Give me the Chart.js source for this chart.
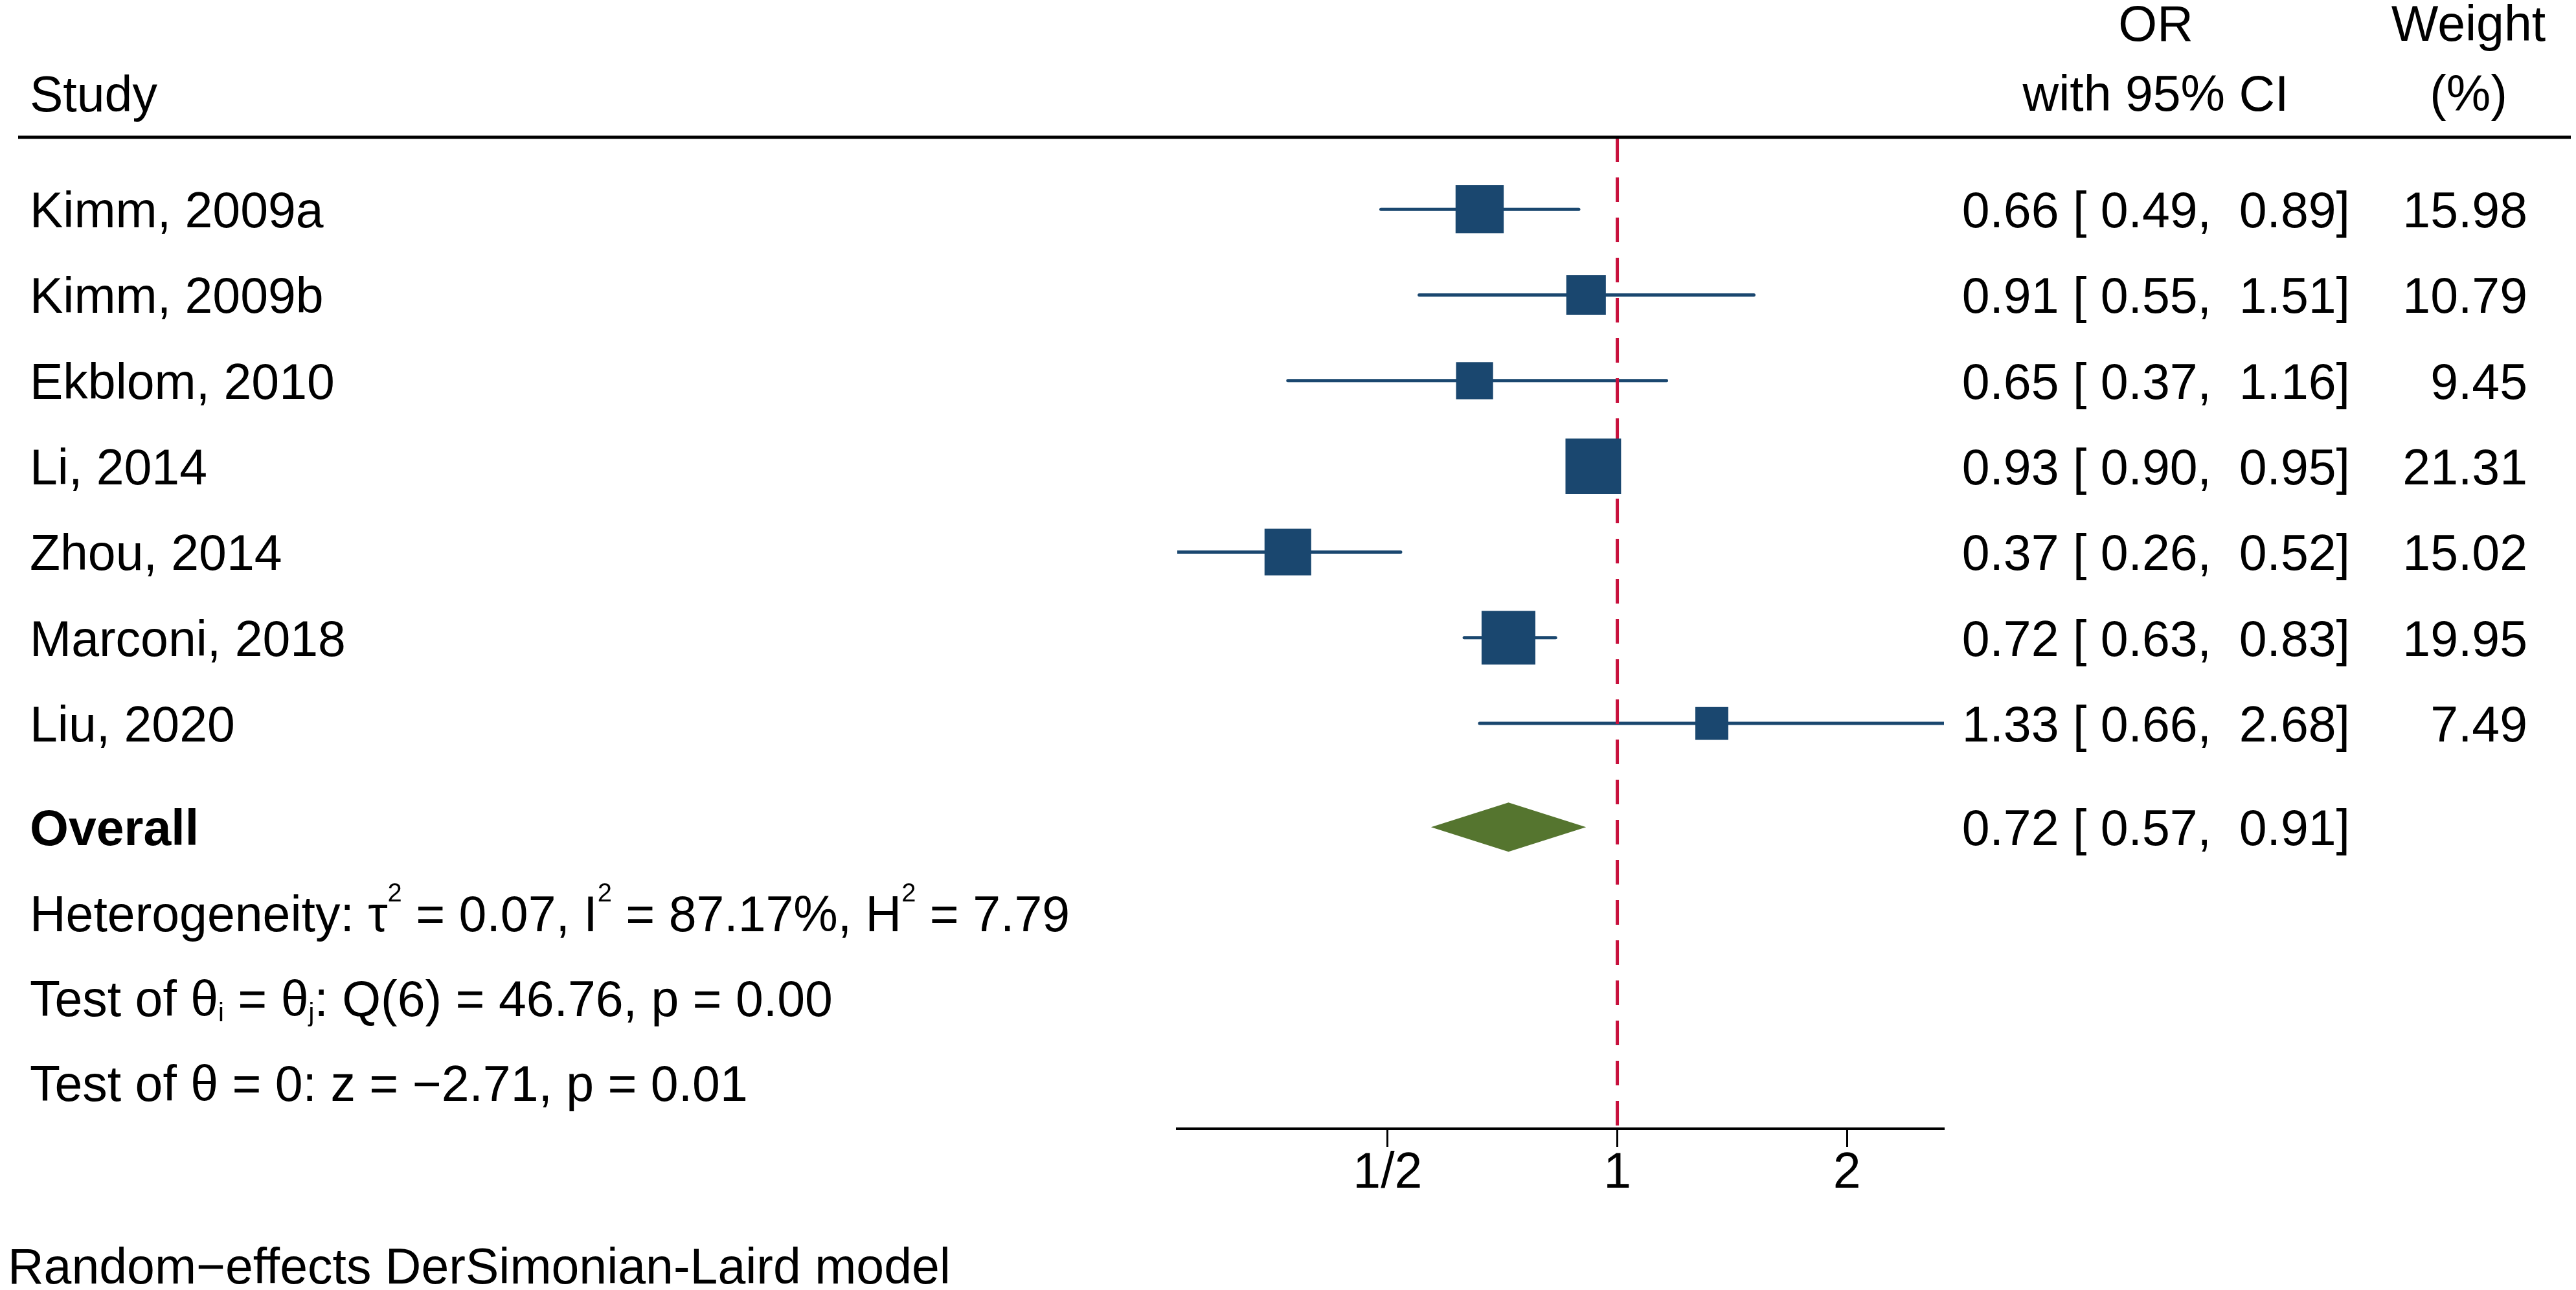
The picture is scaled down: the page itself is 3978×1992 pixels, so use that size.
<!DOCTYPE html>
<html>
<head>
<meta charset="utf-8">
<title>Forest plot</title>
<script src="https://cdn.jsdelivr.net/npm/chart.js@4.4.0/dist/chart.umd.min.js"></script>
<style>
  html, body { margin: 0; padding: 0; background: #fff; }
  canvas { display: block; }
</style>
</head>
<body>
<canvas id="forest" width="3978" height="1992" style="width:3978px;height:1992px"></canvas>
<script>
// data
const studies = ['Kimm, 2009a', 'Kimm, 2009b', 'Ekblom, 2010', 'Li, 2014', 'Zhou, 2014', 'Marconi, 2018', 'Liu, 2020'];
const oddsRatio = [0.66, 0.91, 0.65, 0.93, 0.37, 0.72, 1.33];
const ciLow = [0.49, 0.55, 0.37, 0.90, 0.26, 0.63, 0.66];
const ciHigh = [0.89, 1.51, 1.16, 0.95, 0.52, 0.83, 2.68];
const weights = [15.98, 10.79, 9.45, 21.31, 15.02, 19.95, 7.49];
const overall = [0.72, 0.57, 0.91];          // OR, lower, upper
const heterogeneity = [0.07, 87.17, 7.79];   // tau2, I2, H2
const qTest = [6, 46.76, 0.00];              // df, Q, p
const zTest = [-2.71, 0.01];                 // z, p
const tickValues = [0.5, 1, 2];
const tickLabels = ['1/2', '1', '2'];
const axisRange = [0.265, 2.68];
const noEffect = 1;

// look
const FONT = '"Liberation Sans", Arial, Helvetica, sans-serif';
const FS = 77;
const NAVY = '#1A476F';
const GREEN = '#55752F';
const RED = '#C8103C';
const AXIS_Y = 1743;
const HEADER_Y = 212;
const COL_LEFT = 46;
const COL_OR_CENTER = 3329;
const COL_OR_RIGHT = 3629;
const COL_W_CENTER = 3812;
const COL_W_RIGHT = 3903;
const BOX_K = 18.6;

const n = studies.length;
const overallRow = n + 0.21;
const statRows = [n + 1.21, n + 2.2, n + 3.19];
const yMin = -0.84;
const yMax = n + 3.73;

Chart.defaults.font.family = FONT;

function pad(v, w) {
    return v.toFixed(2).padStart(w, ' ');
}

function fmtCI(est, lo, hi) {
    return `${est.toFixed(2)} [${pad(lo, 5)}, ${pad(hi, 5)}]`;
}

function drawRich(ctx, parts, x, y) {
    const base = `${FS}px ${FONT}`;
    const small = `${Math.round(FS * 0.52)}px ${FONT}`;
    ctx.textAlign = 'left';
    parts.forEach(p => {
        if (typeof p === 'string') {
            ctx.font = base;
            ctx.fillText(p, x, y);
            x += ctx.measureText(p).width;
        } else {
            ctx.font = small;
            ctx.fillText(p.t, x, y + p.dy);
            x += ctx.measureText(p.t).width;
        }
    });
    ctx.font = base;
}
const sup = t => ({ t, dy: -Math.round(FS * 0.6) });
const sub = t => ({ t, dy: Math.round(FS * 0.1) });

const diamondPlugin = {
    id: 'diamond',
    afterDatasetsDraw(chart) {
        const { ctx, scales: { x, y } } = chart;
        const cy = y.getPixelForValue(overallRow);
        const h = 38;
        ctx.save();
        ctx.fillStyle = GREEN;
        ctx.beginPath();
        ctx.moveTo(x.getPixelForValue(overall[1]), cy);
        ctx.lineTo(x.getPixelForValue(overall[0]), cy - h);
        ctx.lineTo(x.getPixelForValue(overall[2]), cy);
        ctx.lineTo(x.getPixelForValue(overall[0]), cy + h);
        ctx.closePath();
        ctx.fill();
        ctx.restore();
    }
};

const tablePlugin = {
    id: 'table',
    afterDraw(chart) {
        const { ctx, scales: { y } } = chart;
        const off = Math.round(FS * 0.358);
        ctx.save();
        ctx.fillStyle = '#000';
        ctx.textBaseline = 'alphabetic';
        ctx.font = `${FS}px ${FONT}`;

        // column headers
        ctx.textAlign = 'left';
        ctx.fillText('Study', COL_LEFT, 172);
        ctx.textAlign = 'center';
        ctx.fillText('OR', COL_OR_CENTER, 63);
        ctx.fillText('with 95% CI', COL_OR_CENTER, 171);
        ctx.fillText('Weight', COL_W_CENTER, 63);
        ctx.fillText('(%)', COL_W_CENTER, 171);

        ctx.strokeStyle = '#000';
        ctx.lineWidth = 5;
        ctx.beginPath();
        ctx.moveTo(28, HEADER_Y);
        ctx.lineTo(3970, HEADER_Y);
        ctx.stroke();

        // study rows
        studies.forEach((s, i) => {
            const yy = y.getPixelForValue(i) + off;
            ctx.textAlign = 'left';
            ctx.fillText(s, COL_LEFT, yy);
            ctx.textAlign = 'right';
            ctx.fillText(fmtCI(oddsRatio[i], ciLow[i], ciHigh[i]), COL_OR_RIGHT, yy);
            ctx.fillText(weights[i].toFixed(2), COL_W_RIGHT, yy);
        });

        // overall row
        const oy = y.getPixelForValue(overallRow) + off;
        ctx.font = `bold ${FS}px ${FONT}`;
        ctx.textAlign = 'left';
        ctx.fillText('Overall', COL_LEFT, oy);
        ctx.font = `${FS}px ${FONT}`;
        ctx.textAlign = 'right';
        ctx.fillText(fmtCI(overall[0], overall[1], overall[2]), COL_OR_RIGHT, oy);

        // statistics
        const zStr = (zTest[0] < 0 ? '\u2212' : '') + Math.abs(zTest[0]).toFixed(2);
        drawRich(ctx, ['Heterogeneity: \u03c4', sup('2'), ` = ${heterogeneity[0].toFixed(2)}, I`, sup('2'),
            ` = ${heterogeneity[1].toFixed(2)}%, H`, sup('2'), ` = ${heterogeneity[2].toFixed(2)}`],
            COL_LEFT, y.getPixelForValue(statRows[0]) + off);
        drawRich(ctx, ['Test of \u03b8', sub('i'), ' = \u03b8', sub('j'),
            `: Q(${qTest[0]}) = ${qTest[1].toFixed(2)}, p = ${qTest[2].toFixed(2)}`],
            COL_LEFT, y.getPixelForValue(statRows[1]) + off);
        drawRich(ctx, [`Test of \u03b8 = 0: z = ${zStr}, p = ${zTest[1].toFixed(2)}`],
            COL_LEFT, y.getPixelForValue(statRows[2]) + off);

        // note
        ctx.textAlign = 'left';
        ctx.fillText('Random\u2212effects DerSimonian-Laird model', 12, 1982);
        ctx.restore();
    }
};

const ciDatasets = studies.map((s, i) => ({
    label: s + ' CI',
    data: [{ x: ciLow[i], y: i }, { x: ciHigh[i], y: i }],
    showLine: true,
    borderColor: NAVY,
    borderWidth: 5,
    borderCapStyle: 'round',
    pointRadius: 0,
    pointHoverRadius: 0,
    order: 2
}));

const refLine = {
    label: 'no effect',
    data: [{ x: noEffect, y: yMin }, { x: noEffect, y: yMax }],
    showLine: true,
    borderColor: RED,
    borderWidth: 5,
    borderDash: [38, 24],
    pointRadius: 0,
    pointHoverRadius: 0,
    order: 1
};

const boxes = {
    label: 'OR',
    data: studies.map((s, i) => ({ x: oddsRatio[i], y: i })),
    pointStyle: 'rect',
    pointRadius: weights.map(w => BOX_K * Math.sqrt(w) / (2 * Math.SQRT1_2)),
    pointHoverRadius: weights.map(w => BOX_K * Math.sqrt(w) / (2 * Math.SQRT1_2)),
    backgroundColor: NAVY,
    borderWidth: 0,
    order: 0
};

new Chart(document.getElementById('forest'), {
    type: 'scatter',
    data: { datasets: [...ciDatasets, refLine, boxes] },
    options: {
        responsive: false,
        devicePixelRatio: 1,
        animation: false,
        events: [],
        layout: { padding: { left: 1818, right: 976, top: HEADER_Y, bottom: 0 } },
        plugins: { legend: { display: false }, tooltip: { enabled: false } },
        scales: {
            x: {
                type: 'logarithmic',
                min: axisRange[0],
                max: axisRange[1],
                afterBuildTicks: scale => {
                    scale.ticks = tickValues.map(v => ({ value: v }));
                },
                afterFit: scale => {
                    scale.height = 1992 - AXIS_Y;
                },
                ticks: {
                    autoSkip: false,
                    maxRotation: 0,
                    padding: -4,
                    color: '#000',
                    font: { size: FS },
                    callback: v => tickLabels[tickValues.indexOf(v)]
                },
                grid: {
                    display: true,
                    drawOnChartArea: false,
                    drawTicks: true,
                    tickLength: 28,
                    tickWidth: 3,
                    tickColor: '#000'
                },
                border: { display: true, color: '#000', width: 4 }
            },
            y: {
                type: 'linear',
                display: false,
                reverse: true,
                min: yMin,
                max: yMax
            }
        }
    },
    plugins: [diamondPlugin, tablePlugin]
});
</script>
</body>
</html>
